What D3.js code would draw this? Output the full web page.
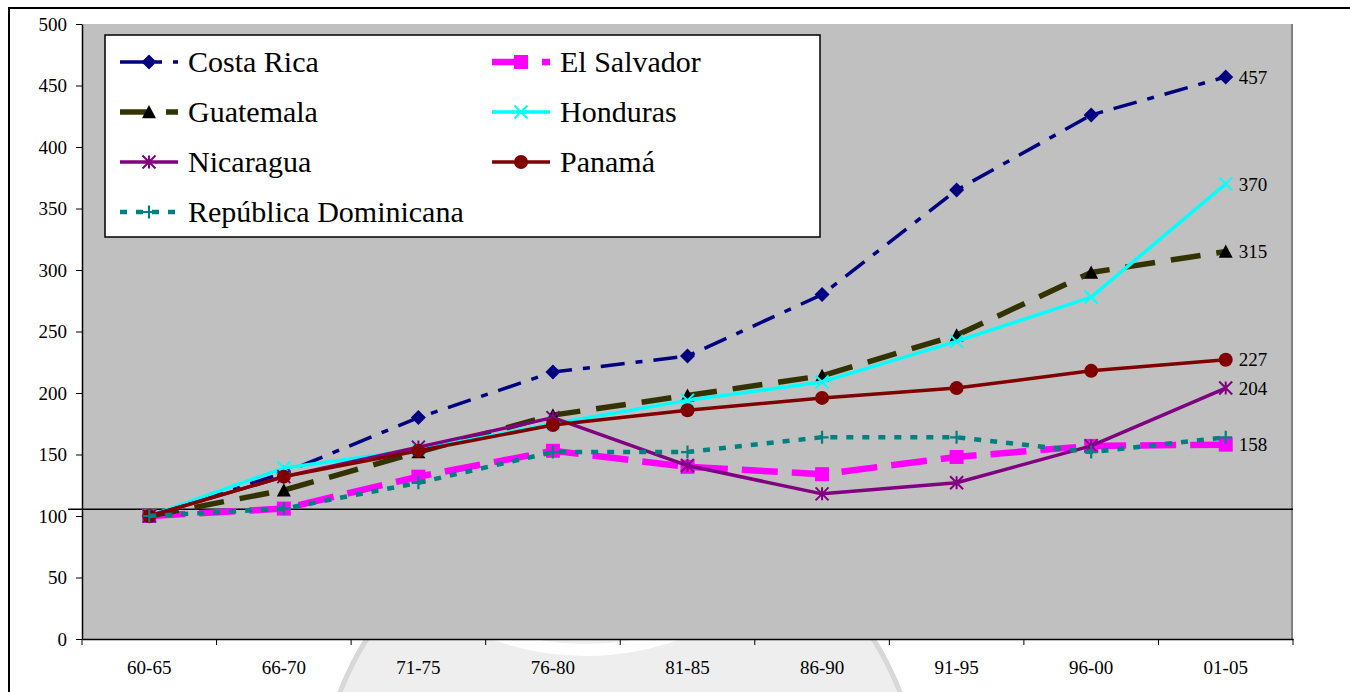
<!DOCTYPE html>
<html>
<head>
<meta charset="utf-8">
<script src="https://cdn.jsdelivr.net/npm/d3@7"></script>
<style>
  html, body { margin: 0; padding: 0; background: #ffffff; }
  svg { display: block; }
</style>
</head>
<body>
<svg id="chart" width="1350" height="692"></svg>
<script>
// ---- data ----
const categories = ["60-65", "66-70", "71-75", "76-80", "81-85", "86-90", "91-95", "96-00", "01-05"];
const costaRica   = [100, 135, 180, 217, 230, 280, 365, 426, 457];
const elSalvador  = [100, 106, 132, 153, 140, 134, 148, 157, 158];
const guatemala   = [100, 121, 152, 182, 198, 214, 247, 298, 315];
const honduras    = [100, 139, 154, 175, 194, 209, 242, 278, 370];
const nicaragua   = [100, 132, 156, 180, 141, 118, 127, 157, 204];
const panama      = [100, 132, 153, 174, 186, 196, 204, 218, 227];
const repDom      = [100, 106, 127, 152, 152, 164, 164, 152, 164];
const seriesNames = ["Costa Rica", "El Salvador", "Guatemala", "Honduras", "Nicaragua", "Panamá", "República Dominicana"];
const endLabels   = [457, 158, 315, 370, 204, 227, null];
const yTicks      = [0, 50, 100, 150, 200, 250, 300, 350, 400, 450, 500];
const referenceValue = 105.5;

const FONT = '"Liberation Serif", "Times New Roman", "DejaVu Serif", serif';

// ---- styles ----
const styles = [
  { color: "#000080", width: 3.5, dash: "24,11,7,11", marker: "diamond", mcolor: "#000080" },
  { color: "#FF00FF", width: 6.5, dash: "36,14",      marker: "square",  mcolor: "#FF00FF" },
  { color: "#333300", width: 5.5, dash: "30,16",      marker: "triangle",mcolor: "#000000" },
  { color: "#00FFFF", width: 3.5, dash: null,         marker: "x",       mcolor: "#00FFFF" },
  { color: "#800080", width: 3.5, dash: null,         marker: "asterisk",mcolor: "#800080" },
  { color: "#800000", width: 3.5, dash: null,         marker: "circle",  mcolor: "#800000" },
  { color: "#008080", width: 4.5, dash: "7,9",        marker: "plus",    mcolor: "#008080" }
];
const allSeries = [costaRica, elSalvador, guatemala, honduras, nicaragua, panama, repDom];

const svg = d3.select("#chart");
const L = 82, R = 1293, T = 24, B = 639;

const x = d3.scaleBand().domain(categories).range([L, R]).padding(0);
const y = d3.scaleLinear().domain([0, 500]).range([B, T]);
const cx = c => x(c) + x.bandwidth() / 2;

// outer frame
svg.append("rect").attr("x", 9).attr("y", 8).attr("width", 1400).attr("height", 700)
  .attr("fill", "none").attr("stroke", "#000").attr("stroke-width", 2);

// faint watermark (behind plot)
const wm = svg.append("g");
wm.append("circle").attr("cx", 620).attr("cy", 800).attr("r", 300)
  .attr("fill", "#eeeeee").attr("stroke", "#d8d8d8").attr("stroke-width", 5);
wm.append("circle").attr("cx", 586).attr("cy", 382).attr("r", 268)
  .attr("fill", "none").attr("stroke", "#ffffff").attr("stroke-width", 12);

// plot area
svg.append("rect").attr("x", L).attr("y", T).attr("width", R - L).attr("height", B - T)
  .attr("fill", "#C0C0C0");
svg.append("line").attr("x1", R - 1).attr("x2", R - 1).attr("y1", T).attr("y2", B)
  .attr("stroke", "#808080").attr("stroke-width", 2);

// y axis
const yAxis = svg.append("g").attr("transform", `translate(${L},0)`)
  .call(d3.axisLeft(y).tickValues(yTicks).tickSize(6).tickPadding(9).tickSizeOuter(0));
yAxis.select(".domain").attr("stroke", "#000").attr("stroke-width", 1.5);
yAxis.selectAll(".tick line").attr("stroke", "#000");
yAxis.selectAll(".tick text").style("font-size", "19px").style("font-family", FONT).attr("fill", "#000");

// x axis
const xAxis = svg.append("g").attr("transform", `translate(0,${B})`)
  .call(d3.axisBottom(x).tickSize(0).tickPadding(22).tickSizeOuter(0));
xAxis.select(".domain").attr("stroke", "#000").attr("stroke-width", 1.5);
xAxis.selectAll(".tick text").style("font-size", "19px").style("font-family", FONT).attr("fill", "#000");
const bounds = categories.map(c => x(c)).concat([x.range()[1]]);
svg.append("g").selectAll("line").data(bounds).join("line")
  .attr("x1", d => d).attr("x2", d => d).attr("y1", B).attr("y2", B + 6)
  .attr("stroke", "#000").attr("stroke-width", 1);

// reference line
svg.append("line").attr("x1", 68).attr("x2", R).attr("y1", y(referenceValue)).attr("y2", y(referenceValue))
  .attr("stroke", "#000").attr("stroke-width", 1.5);

// marker drawer
function drawMarker(g, type, px, py, color) {
  if (type === "diamond") {
    const h = 7.5;
    g.append("path").attr("d", `M${px},${py - h}L${px + h},${py}L${px},${py + h}L${px - h},${py}Z`).attr("fill", color);
  } else if (type === "square") {
    const h = 7;
    g.append("rect").attr("x", px - h).attr("y", py - h).attr("width", 2 * h).attr("height", 2 * h).attr("fill", color);
  } else if (type === "triangle") {
    const h = 7;
    g.append("path").attr("d", `M${px},${py - h}L${px + h},${py + h * 0.9}L${px - h},${py + h * 0.9}Z`).attr("fill", color);
  } else if (type === "circle") {
    g.append("circle").attr("cx", px).attr("cy", py).attr("r", 7).attr("fill", color);
  } else if (type === "x") {
    const h = 6.5;
    g.append("path").attr("d", `M${px - h},${py - h}L${px + h},${py + h}M${px - h},${py + h}L${px + h},${py - h}`)
      .attr("stroke", color).attr("stroke-width", 2).attr("fill", "none");
  } else if (type === "asterisk") {
    const h = 6.5;
    g.append("path").attr("d", `M${px - h},${py - h}L${px + h},${py + h}M${px - h},${py + h}L${px + h},${py - h}M${px},${py - h}L${px},${py + h}`)
      .attr("stroke", color).attr("stroke-width", 2).attr("fill", "none");
  } else if (type === "plus") {
    const h = 6.5;
    g.append("path").attr("d", `M${px - h},${py}L${px + h},${py}M${px},${py - h}L${px},${py + h}`)
      .attr("stroke", color).attr("stroke-width", 2.2).attr("fill", "none");
  }
}

// series
const line = d3.line().x((d, i) => cx(categories[i])).y(d => y(d));
allSeries.forEach((vals, si) => {
  const st = styles[si];
  const g = svg.append("g");
  g.append("path").attr("d", line(vals)).attr("fill", "none")
    .attr("stroke", st.color).attr("stroke-width", st.width)
    .attr("stroke-dasharray", st.dash).attr("stroke-linejoin", "round");
  vals.forEach((v, i) => drawMarker(g, st.marker, cx(categories[i]), y(v), st.mcolor));
});

// end labels
allSeries.forEach((vals, si) => {
  if (endLabels[si] == null) return;
  svg.append("text").attr("x", cx(categories[categories.length - 1]) + 13)
    .attr("y", y(vals[vals.length - 1])).attr("dy", "0.35em")
    .style("font-size", "19px").style("font-family", FONT).attr("fill", "#000")
    .text(endLabels[si]);
});

// legend
const lg = svg.append("g");
lg.append("rect").attr("x", 105).attr("y", 35).attr("width", 715).attr("height", 202)
  .attr("fill", "#fff").attr("stroke", "#000").attr("stroke-width", 1.5);
const legendPos = [
  { lx: 120, ly: 62 }, { lx: 492, ly: 62 },
  { lx: 120, ly: 112 }, { lx: 492, ly: 112 },
  { lx: 120, ly: 162 }, { lx: 492, ly: 162 },
  { lx: 120, ly: 212 }
];
seriesNames.forEach((name, si) => {
  const st = styles[si];
  const p = legendPos[si];
  lg.append("line").attr("x1", p.lx).attr("x2", p.lx + 58).attr("y1", p.ly).attr("y2", p.ly)
    .attr("stroke", st.color).attr("stroke-width", st.width).attr("stroke-dasharray", st.dash);
  drawMarker(lg, st.marker, p.lx + 29, p.ly, st.mcolor);
  lg.append("text").attr("x", p.lx + 68).attr("y", p.ly).attr("dy", "0.34em")
    .style("font-size", "30px").style("font-family", FONT).attr("fill", "#000")
    .text(name);
});
</script>
</body>
</html>
